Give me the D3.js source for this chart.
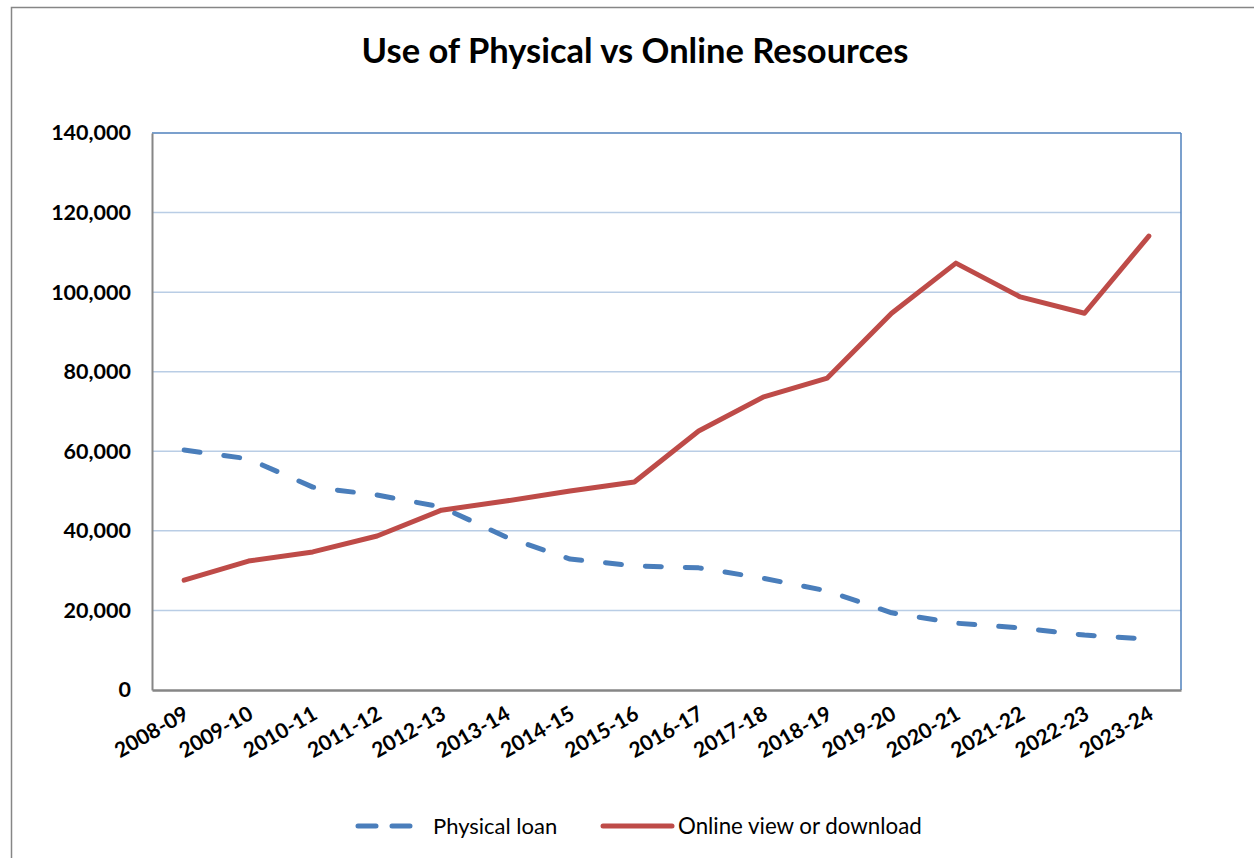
<!DOCTYPE html>
<html><head><meta charset="utf-8">
<script src="https://cdn.jsdelivr.net/npm/d3@7"></script>
<style>body{margin:0;background:#fff}svg{display:block}</style>
</head><body>
<svg id="c" width="1254" height="858"></svg>
<script>
const categories = ["2008-09","2009-10","2010-11","2011-12","2012-13","2013-14","2014-15","2015-16","2016-17","2017-18","2018-19","2019-20","2020-21","2021-22","2022-23","2023-24"];
const physicalLoan = [60300,58100,51000,49000,46000,38500,32900,31200,30700,28100,24900,19400,16800,15600,13800,12800];
const onlineView = [27600,32400,34700,38700,45200,47500,50000,52300,65100,73600,78400,94700,107300,98800,94700,114100];
const yTicks = [0,20000,40000,60000,80000,100000,120000,140000];
const seriesNames = ["Physical loan","Online view or download"];

const svg = d3.select("#c");
const font = "Lato, 'Open Sans', sans-serif";
const L = 152, R = 1181, T = 133, B = 690;

svg.append("rect").attr("x",11.5).attr("y",7.5).attr("width",1260).attr("height",900)
  .attr("fill","#fff").attr("stroke","#868686").attr("stroke-width",1.5);

const x = d3.scaleBand().domain(categories).range([L,R]);
const y = d3.scaleLinear().domain([0,140000]).range([B,T]);

svg.append("g").selectAll("line").data(yTicks.filter(d=>d>0 && d<140000)).join("line")
  .attr("x1",L).attr("x2",R).attr("y1",d=>y(d)).attr("y2",d=>y(d))
  .attr("stroke","#b9cde5").attr("stroke-width",1.5);

svg.append("line").attr("x1",L).attr("x2",R).attr("y1",T).attr("y2",T).attr("stroke","#4f81bd").attr("stroke-width",1.5);
svg.append("line").attr("x1",R).attr("x2",R).attr("y1",T).attr("y2",B).attr("stroke","#4f81bd").attr("stroke-width",1.5);

const yAxis = svg.append("g").attr("transform",`translate(${L},0)`)
  .call(d3.axisLeft(y).tickValues(yTicks).tickSize(0).tickPadding(21).tickFormat(d3.format(",")));
yAxis.select(".domain").attr("stroke","#868686").attr("stroke-width",2);
yAxis.selectAll("text").attr("font-family",font).attr("font-weight","bold").attr("font-size",21.5).attr("fill","#000");

const xAxis = svg.append("g").attr("transform",`translate(0,${B})`)
  .call(d3.axisBottom(x).tickSize(0).tickPadding(0));
xAxis.select(".domain").attr("stroke","#868686").attr("stroke-width",2.5);
xAxis.selectAll("text").attr("font-family",font).attr("font-weight","bold").attr("font-size",21).attr("fill","#000")
  .attr("text-anchor","end").attr("dy",0).attr("y",0)
  .attr("transform","translate(6,28) rotate(-30)");

const cx = d => x(d) + x.bandwidth()/2;
const line = d3.line().x((d,i)=>cx(categories[i])).y(d=>y(d));

svg.append("path").datum(physicalLoan).attr("d",line).attr("fill","none")
  .attr("stroke","#4a7ebb").attr("stroke-width",5).attr("stroke-linecap","round").attr("stroke-linejoin","round")
  .attr("stroke-dasharray","16,24");
svg.append("path").datum(onlineView).attr("d",line).attr("fill","none")
  .attr("stroke","#be4b48").attr("stroke-width",5).attr("stroke-linecap","round").attr("stroke-linejoin","round");

svg.append("text").attr("x",635).attr("y",63).attr("text-anchor","middle")
  .attr("font-family",font).attr("font-weight","bold").attr("font-size",34.5).attr("fill","#000")
  .text("Use of Physical vs Online Resources");

const ly = 826;
svg.append("line").attr("x1",358).attr("x2",410).attr("y1",ly).attr("y2",ly)
  .attr("stroke","#4a7ebb").attr("stroke-width",5).attr("stroke-linecap","round").attr("stroke-dasharray","18,16");
svg.append("text").attr("x",433).attr("y",ly+8).attr("font-family",font).attr("font-size",22).attr("fill","#000").text(seriesNames[0]);
svg.append("line").attr("x1",603).attr("x2",672).attr("y1",ly).attr("y2",ly)
  .attr("stroke","#be4b48").attr("stroke-width",5).attr("stroke-linecap","round");
svg.append("text").attr("x",678).attr("y",ly+8).attr("font-family",font).attr("font-size",22.3).attr("fill","#000").text(seriesNames[1]);
</script>
</body></html>
